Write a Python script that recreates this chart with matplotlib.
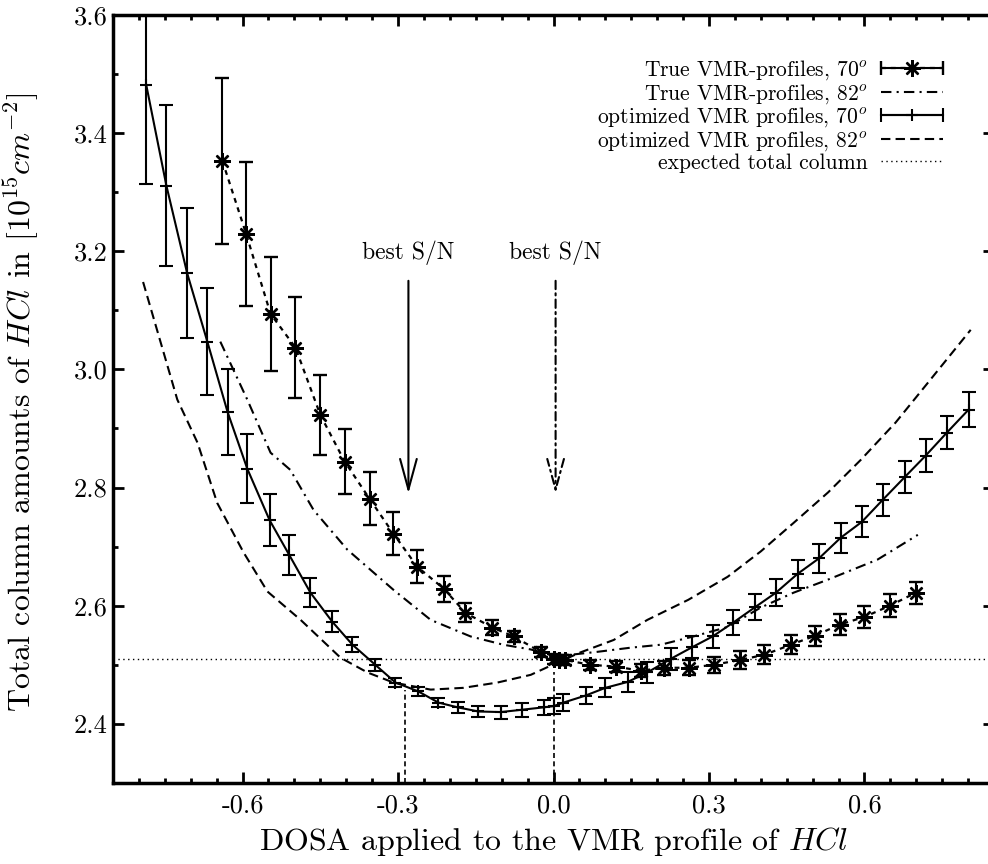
import matplotlib
matplotlib.use("Agg")
import matplotlib.pyplot as plt
from matplotlib.container import ErrorbarContainer
from matplotlib.legend_handler import HandlerErrorbar

plt.rcParams['font.family'] = ['cmr10', 'DejaVu Serif']
plt.rcParams['mathtext.fontset'] = 'cm'
plt.rcParams['axes.unicode_minus'] = False

# optimized VMR profiles, 70 deg (solid line, errorbars)
opt70_x = [-0.786, -0.747, -0.707, -0.668, -0.629, -0.591, -0.548, -0.510, -0.469, -0.427,
           -0.388, -0.344, -0.305, -0.261, -0.222, -0.185, -0.145, -0.102, -0.060, -0.019,
           0.0, 0.019, 0.062, 0.100, 0.143, 0.181, 0.226, 0.268, 0.307, 0.346,
           0.388, 0.429, 0.471, 0.512, 0.554, 0.595, 0.635, 0.678, 0.718, 0.759, 0.801]
opt70_y = [3.482, 3.311, 3.163, 3.047, 2.928, 2.832, 2.745, 2.686, 2.622, 2.573,
           2.534, 2.500, 2.470, 2.455, 2.436, 2.428, 2.421, 2.420, 2.424, 2.428,
           2.430, 2.436, 2.448, 2.461, 2.471, 2.487, 2.510, 2.530, 2.548, 2.571,
           2.597, 2.622, 2.654, 2.680, 2.715, 2.742, 2.779, 2.818, 2.854, 2.893, 2.932]
opt70_err = [0.168, 0.136, 0.110, 0.091, 0.073, 0.058, 0.044, 0.034, 0.025, 0.018,
             0.013, 0.010, 0.008, 0.008, 0.008, 0.009, 0.010, 0.011, 0.012, 0.013,
             0.013, 0.014, 0.015, 0.016, 0.017, 0.018, 0.018, 0.019, 0.020, 0.021,
             0.022, 0.023, 0.024, 0.025, 0.025, 0.026, 0.027, 0.027, 0.028, 0.028, 0.029]

# true VMR profiles, 70 deg (stars, errorbars)
true70_x = [-0.639, -0.593, -0.546, -0.498, -0.450, -0.403, -0.355, -0.309, -0.263, -0.212,
            -0.170, -0.118, -0.077, -0.025, 0.0, 0.010, 0.023, 0.071, 0.120, 0.168,
            0.214, 0.261, 0.309, 0.359, 0.407, 0.458, 0.504, 0.552, 0.600, 0.649, 0.699]
true70_y = [3.353, 3.229, 3.094, 3.037, 2.923, 2.844, 2.781, 2.722, 2.666, 2.629,
            2.588, 2.563, 2.548, 2.522, 2.510, 2.508, 2.508, 2.500, 2.497, 2.490,
            2.495, 2.495, 2.500, 2.508, 2.517, 2.534, 2.549, 2.568, 2.581, 2.600, 2.622]
true70_err = [0.140, 0.122, 0.097, 0.085, 0.068, 0.055, 0.045, 0.036, 0.028, 0.022,
              0.016, 0.012, 0.010, 0.008, 0.008, 0.008, 0.008, 0.008, 0.010, 0.011,
              0.012, 0.013, 0.014, 0.015, 0.016, 0.016, 0.017, 0.018, 0.018, 0.019, 0.019]

# true VMR profiles, 82 deg (dash-dot)
true82_x = [-0.643, -0.591, -0.546, -0.508, -0.463, -0.398, -0.309, -0.237, -0.160, -0.097,
            -0.044, -0.006, 0.033, 0.085, 0.149, 0.207, 0.270, 0.336, 0.400, 0.463,
            0.529, 0.625, 0.703]
true82_y = [3.047, 2.949, 2.859, 2.830, 2.762, 2.695, 2.627, 2.576, 2.548, 2.534,
            2.526, 2.517, 2.517, 2.522, 2.529, 2.534, 2.548, 2.564, 2.597, 2.622,
            2.644, 2.678, 2.720]

# optimized VMR profiles, 82 deg (dashed)
opt82_x = [-0.792, -0.726, -0.687, -0.649, -0.598, -0.552, -0.488, -0.411, -0.359, -0.309,
           -0.237, -0.174, -0.108, -0.044, 0.008, 0.052, 0.116, 0.181, 0.260, 0.336,
           0.400, 0.463, 0.530, 0.593, 0.660, 0.722, 0.805]
opt82_y = [3.148, 2.949, 2.876, 2.774, 2.690, 2.624, 2.576, 2.512, 2.487, 2.470,
           2.458, 2.461, 2.470, 2.483, 2.504, 2.521, 2.542, 2.576, 2.610, 2.649,
           2.692, 2.740, 2.792, 2.847, 2.910, 2.977, 3.067]

expected_column = 2.51
best_sn_x = [-0.28, 0.004]
min_line_x = [-0.286, 0.0]
min_line_top = [2.458, 2.487]

xticks = [-0.6, -0.3, 0.0, 0.3, 0.6]
xtick_labels = ["-0.6", "-0.3", "0.0", "0.3", "0.6"]
yticks = [2.4, 2.6, 2.8, 3.0, 3.2, 3.4, 3.6]
ytick_labels = ["2.4", "2.6", "2.8", "3.0", "3.2", "3.4", "3.6"]

fig = plt.figure(figsize=(9.88, 8.64), dpi=100)
ax = fig.add_axes([0.1144, 0.0938, 0.8917, 0.8889])

eb_true70 = ax.errorbar(true70_x, true70_y, yerr=true70_err, color='k', marker=(8, 2, 0),
                        ms=12, mew=1.7, ls=(0, (2.2, 2.2)), lw=1.6, capsize=5,
                        elinewidth=1.5, capthick=1.5,
                        label=r"True VMR-profiles, 70$^o$")
l_true82, = ax.plot(true82_x, true82_y, color='k', lw=1.5, ls=(0, (5, 2.5, 1, 2.5)),
                    label=r"True VMR-profiles, 82$^o$")
eb_opt70 = ax.errorbar(opt70_x, opt70_y, yerr=opt70_err, color='k', marker='+', ms=9,
                       mew=1.5, ls='-', lw=1.5, capsize=5, elinewidth=1.5, capthick=1.5,
                       label=r"optimized VMR profiles, 70$^o$")
l_opt82, = ax.plot(opt82_x, opt82_y, color='k', lw=1.5, ls=(0, (4.5, 2.5)),
                   label=r"optimized VMR profiles, 82$^o$")
l_exp = ax.axhline(expected_column, color='k', lw=1.0, ls=(0, (1, 2.5)),
                   label="expected total column")

# vertical lines down from the minima
for xv, yt in zip(min_line_x, min_line_top):
    ax.plot([xv, xv], [2.3, yt], color='k', lw=1.2, ls=(0, (3, 2)))

# best S/N arrows
ax.annotate("", xy=(best_sn_x[0], 2.79), xytext=(best_sn_x[0], 3.15),
            arrowprops=dict(arrowstyle="->,head_length=1.1,head_width=0.3",
                            color='k', lw=1.5, shrinkA=0, shrinkB=0, mutation_scale=20))
ax.annotate("", xy=(best_sn_x[1], 2.79), xytext=(best_sn_x[1], 3.15),
            arrowprops=dict(arrowstyle="->,head_length=1.1,head_width=0.3",
                            color='k', lw=1.5, ls=(0, (4, 2, 1, 2)),
                            shrinkA=0, shrinkB=0, mutation_scale=20))
ax.text(best_sn_x[0], 3.197, "best S/N", ha='center', va='center', fontsize=17)
ax.text(best_sn_x[1], 3.197, "best S/N", ha='center', va='center', fontsize=17)

ax.set_xlim(-0.85, 0.85)
ax.set_ylim(2.3, 3.6)
ax.set_xticks(xticks)
ax.set_xticklabels(xtick_labels)
ax.set_xticks([v / 100 for v in range(-80, 85, 5)], minor=True)
ax.set_yticks(yticks)
ax.set_yticklabels(ytick_labels)
ax.set_yticks([2.3, 2.5, 2.7, 2.9, 3.1, 3.3, 3.5], minor=True)
ax.tick_params(which='both', direction='in', top=True, right=True, labelsize=19)
ax.tick_params(which='major', length=8, width=2)
ax.tick_params(which='minor', length=3.5, width=2)
ax.tick_params(axis='x', which='major', pad=8)
ax.tick_params(axis='y', which='major', pad=4)
for sp in ax.spines.values():
    sp.set_linewidth(2.5)

ax.set_xlabel(r"DOSA applied to the VMR profile of $HCl$", fontsize=23)
ax.xaxis.set_label_coords(0.5, -0.055)
ax.set_ylabel(r"Total column amounts of $HCl$ in [$10^{15}cm^{-2}$]", fontsize=23)
ax.yaxis.set_label_coords(-0.082, 0.495)

# legend: errorbars drawn horizontally like the original
h_true70 = ErrorbarContainer(eb_true70.lines, has_xerr=True, has_yerr=False,
                             label=eb_true70.get_label())
h_opt70 = ErrorbarContainer(eb_opt70.lines, has_xerr=True, has_yerr=False,
                            label=eb_opt70.get_label())
handles = [h_true70, l_true82, h_opt70, l_opt82, l_exp]
ax.legend(handles, [h.get_label() for h in handles],
          handler_map={ErrorbarContainer: HandlerErrorbar(xerr_size=1.45)},
          loc='upper right', bbox_to_anchor=(943 / 988, (864 - 58) / 864),
          bbox_transform=fig.transFigure, frameon=False, markerfirst=False,
          fontsize=15.5, handlelength=2.9, handletextpad=0.6, labelspacing=0.0,
          borderpad=0, borderaxespad=0)

fig.savefig("out.png", dpi=100)
